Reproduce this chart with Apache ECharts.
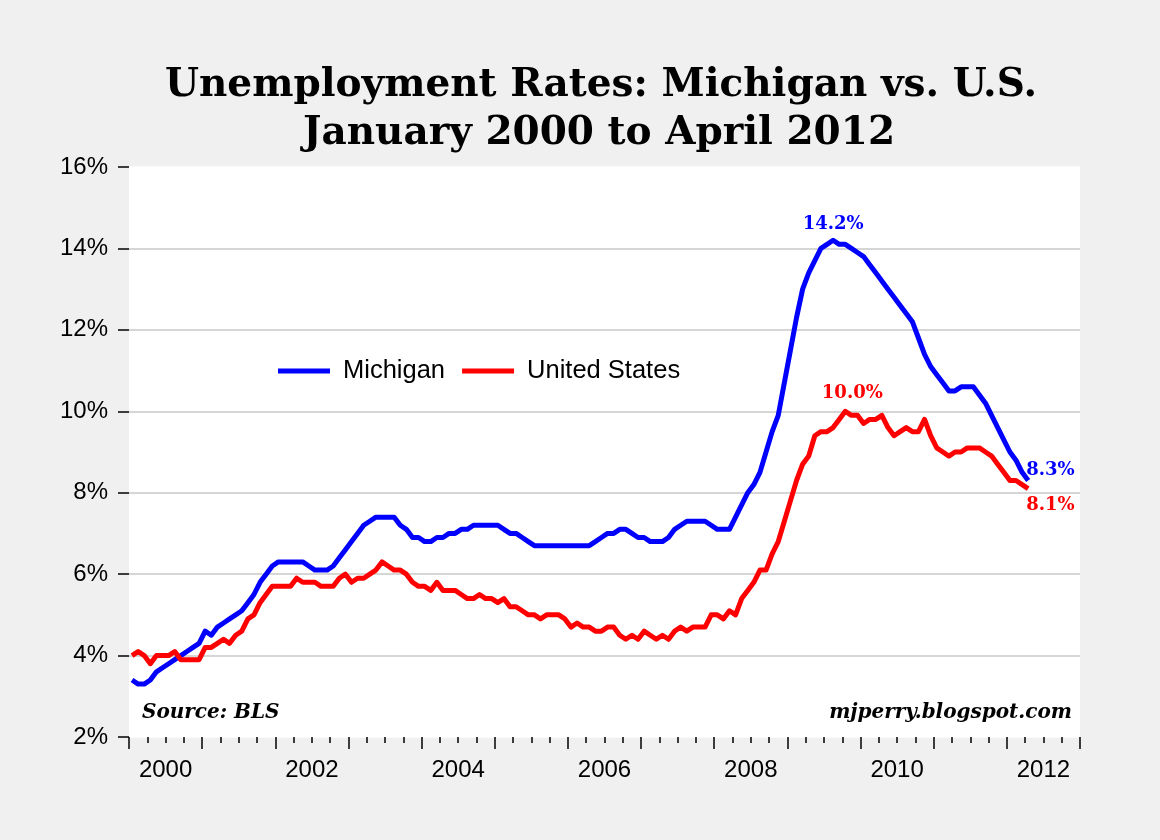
<!DOCTYPE html>
<html>
<head>
<meta charset="utf-8">
<title>Unemployment Rates: Michigan vs. U.S.</title>
<script src="https://cdn.jsdelivr.net/npm/echarts@6/dist/echarts.min.js"></script>
<style>
  html, body { margin: 0; padding: 0; background: #f0f0f0; }
  #chart { width: 1160px; height: 840px; }
</style>
</head>
<body>
<div id="chart"></div>
<script>
// monthly rates, Jan 2000 .. Apr 2012
var michigan = [
  3.4, 3.3, 3.3, 3.4, 3.6, 3.7, 3.8, 3.9, 4.0, 4.1, 4.2, 4.3,
  4.6, 4.5, 4.7, 4.8, 4.9, 5.0, 5.1, 5.3, 5.5, 5.8, 6.0, 6.2,
  6.3, 6.3, 6.3, 6.3, 6.3, 6.2, 6.1, 6.1, 6.1, 6.2, 6.4, 6.6,
  6.8, 7.0, 7.2, 7.3, 7.4, 7.4, 7.4, 7.4, 7.2, 7.1, 6.9, 6.9,
  6.8, 6.8, 6.9, 6.9, 7.0, 7.0, 7.1, 7.1, 7.2, 7.2, 7.2, 7.2,
  7.2, 7.1, 7.0, 7.0, 6.9, 6.8, 6.7, 6.7, 6.7, 6.7, 6.7, 6.7,
  6.7, 6.7, 6.7, 6.7, 6.8, 6.9, 7.0, 7.0, 7.1, 7.1, 7.0, 6.9,
  6.9, 6.8, 6.8, 6.8, 6.9, 7.1, 7.2, 7.3, 7.3, 7.3, 7.3, 7.2,
  7.1, 7.1, 7.1, 7.4, 7.7, 8.0, 8.2, 8.5, 9.0, 9.5, 9.9, 10.7,
  11.5, 12.3, 13.0, 13.4, 13.7, 14.0, 14.1, 14.2, 14.1, 14.1, 14.0, 13.9,
  13.8, 13.6, 13.4, 13.2, 13.0, 12.8, 12.6, 12.4, 12.2, 11.8, 11.4, 11.1,
  10.9, 10.7, 10.5, 10.5, 10.6, 10.6, 10.6, 10.4, 10.2, 9.9, 9.6, 9.3,
  9.0, 8.8, 8.5, 8.3
];
var unitedStates = [
  4.0, 4.1, 4.0, 3.8, 4.0, 4.0, 4.0, 4.1, 3.9, 3.9, 3.9, 3.9,
  4.2, 4.2, 4.3, 4.4, 4.3, 4.5, 4.6, 4.9, 5.0, 5.3, 5.5, 5.7,
  5.7, 5.7, 5.7, 5.9, 5.8, 5.8, 5.8, 5.7, 5.7, 5.7, 5.9, 6.0,
  5.8, 5.9, 5.9, 6.0, 6.1, 6.3, 6.2, 6.1, 6.1, 6.0, 5.8, 5.7,
  5.7, 5.6, 5.8, 5.6, 5.6, 5.6, 5.5, 5.4, 5.4, 5.5, 5.4, 5.4,
  5.3, 5.4, 5.2, 5.2, 5.1, 5.0, 5.0, 4.9, 5.0, 5.0, 5.0, 4.9,
  4.7, 4.8, 4.7, 4.7, 4.6, 4.6, 4.7, 4.7, 4.5, 4.4, 4.5, 4.4,
  4.6, 4.5, 4.4, 4.5, 4.4, 4.6, 4.7, 4.6, 4.7, 4.7, 4.7, 5.0,
  5.0, 4.9, 5.1, 5.0, 5.4, 5.6, 5.8, 6.1, 6.1, 6.5, 6.8, 7.3,
  7.8, 8.3, 8.7, 8.9, 9.4, 9.5, 9.5, 9.6, 9.8, 10.0, 9.9, 9.9,
  9.7, 9.8, 9.8, 9.9, 9.6, 9.4, 9.5, 9.6, 9.5, 9.5, 9.8, 9.4,
  9.1, 9.0, 8.9, 9.0, 9.0, 9.1, 9.1, 9.1, 9.0, 8.9, 8.7, 8.5,
  8.3, 8.3, 8.2, 8.1
];
var years = ['2000', '2001', '2002', '2003', '2004', '2005', '2006',
             '2007', '2008', '2009', '2010', '2011', '2012'];

// month index -> [x, y], plotted at mid-month
function toPoints(arr) {
  return arr.map(function (v, i) { return [i + 0.5, v]; });
}
function peakIndex(arr) {
  var k = 0;
  arr.forEach(function (v, i) { if (v > arr[k]) k = i; });
  return k;
}

var miPeak = peakIndex(michigan);
var usPeak = peakIndex(unitedStates);
var last = michigan.length - 1;

var noteFont = {
  fontFamily: 'DejaVu Serif',
  fontWeight: 'bold',
  fontSize: 18
};
var serifNote = {
  fontFamily: 'DejaVu Serif',
  fontWeight: 'bold',
  fontStyle: 'italic',
  fontSize: 20,
  fill: '#000'
};

var chart = echarts.init(document.getElementById('chart'));

var option = {
  backgroundColor: '#f0f0f0',
  animation: false,
  title: [{
    text: 'Unemployment Rates: Michigan vs. U.S.',
    left: 596, top: 58, textAlign: 'center',
    textStyle: { fontFamily: 'DejaVu Serif', fontWeight: 'bold', fontSize: 39, color: '#000', lineHeight: 45 }
  }, {
    text: 'January 2000 to April 2012',
    left: 594, top: 106, textAlign: 'center',
    textStyle: { fontFamily: 'DejaVu Serif', fontWeight: 'bold', fontSize: 39, color: '#000', lineHeight: 45 }
  }],
  legend: {
    left: 278, top: 358, padding: 0,
    icon: 'rect',
    itemWidth: 52, itemHeight: 5,
    itemGap: 17,
    textStyle: { fontFamily: 'Liberation Sans', fontSize: 25.5, color: '#000', padding: [0, 0, 0, 8] },
    data: ['Michigan', 'United States']
  },
  grid: {
    left: 129, right: 80, top: 167, bottom: 103,
    show: true, backgroundColor: '#fff', borderWidth: 0
  },
  xAxis: [{
    type: 'value',
    min: 0, max: 156, interval: 12,
    axisLine: { show: false },
    axisTick: { show: true, length: 12, lineStyle: { color: '#000', width: 1.5 } },
    minorTick: { show: true, splitNumber: 4, length: 6, lineStyle: { color: '#000', width: 1.5 } },
    axisLabel: { show: false },
    splitLine: { show: false }
  }, {
    type: 'category',
    position: 'bottom',
    data: years,
    boundaryGap: true,
    axisLine: { show: false },
    axisTick: { show: false },
    axisLabel: {
      interval: 1, margin: 21,
      fontFamily: 'Liberation Sans', fontSize: 24, color: '#000'
    },
    splitLine: { show: false }
  }],
  yAxis: {
    type: 'value',
    min: 2, max: 16, interval: 2,
    axisLine: { show: false },
    axisTick: { show: true, length: 11, lineStyle: { color: '#000', width: 1.5 } },
    axisLabel: {
      formatter: '{value}%', margin: 21,
      fontFamily: 'Liberation Sans', fontSize: 24, color: '#000'
    },
    splitLine: {
      show: true,
      lineStyle: {
        width: 1.5,
        color: ['#fff', '#c8c8c8', '#c8c8c8', '#c8c8c8', '#c8c8c8', '#c8c8c8', '#c8c8c8', '#fff']
      }
    }
  },
  graphic: [{
    type: 'text', left: 142, top: 703,
    style: Object.assign({ text: 'Source: BLS' }, serifNote)
  }, {
    type: 'text', right: 88, top: 703,
    style: Object.assign({ text: 'mjperry.blogspot.com' }, serifNote)
  }],
  series: [{
    name: 'Michigan',
    type: 'line',
    xAxisIndex: 0,
    data: toPoints(michigan),
    showSymbol: false,
    lineStyle: { color: '#0000ff', width: 5, join: 'round' },
    itemStyle: { color: '#0000ff' },
    markPoint: {
      symbol: 'circle', symbolSize: 0,
      data: [{
        coord: [miPeak + 0.5, michigan[miPeak]],
        label: { show: true, position: 'top', distance: 7, formatter: michigan[miPeak].toFixed(1) + '%', color: '#0000ff' }
      }, {
        coord: [last + 0.5, michigan[last]],
        label: { show: true, position: 'right', distance: 0, offset: [-2, -10], formatter: michigan[last].toFixed(1) + '%', color: '#0000ff' }
      }],
      label: noteFont
    }
  }, {
    name: 'United States',
    type: 'line',
    xAxisIndex: 0,
    data: toPoints(unitedStates),
    showSymbol: false,
    lineStyle: { color: '#ff0000', width: 5, join: 'round' },
    itemStyle: { color: '#ff0000' },
    markPoint: {
      symbol: 'circle', symbolSize: 0,
      data: [{
        coord: [usPeak + 0.5, unitedStates[usPeak]],
        label: { show: true, position: 'top', distance: 9, offset: [7, 0], formatter: unitedStates[usPeak].toFixed(1) + '%', color: '#ff0000' }
      }, {
        coord: [last + 0.5, unitedStates[last]],
        label: { show: true, position: 'right', distance: 0, offset: [-2, 17], formatter: unitedStates[last].toFixed(1) + '%', color: '#ff0000' }
      }],
      label: noteFont
    }
  }]
};

chart.setOption(option);
</script>
</body>
</html>
